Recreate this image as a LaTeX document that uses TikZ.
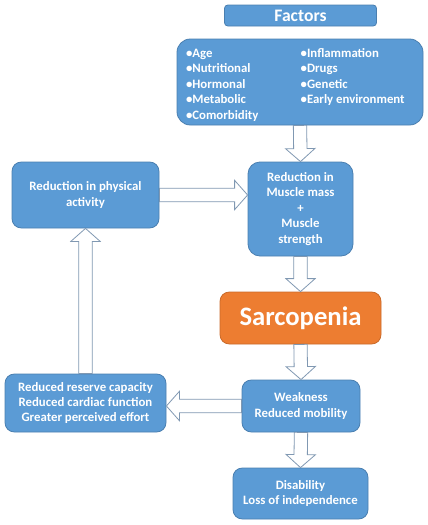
\documentclass[tikz,border=0pt]{standalone}
\usepackage{fontspec}
\setmainfont{Carlito}
\usetikzlibrary{calc}

\definecolor{boxblue}{HTML}{5B9BD5}
\definecolor{boxedge}{HTML}{4A7FB0}
\definecolor{boxorange}{HTML}{ED7D31}
\definecolor{arrowedge}{HTML}{8098B2}

\tikzset{
    box/.style={draw=boxedge, fill=boxblue, line width=0.6pt, rounded corners=7pt,
	inner sep=0pt, align=center, text=white,
	font=\bfseries\fontsize{9.6}{11.6}\selectfont},
    hollow/.style={draw=arrowedge, fill=white, line width=0.6pt,
	to path={let \p1=(\tikztostart), \p2=(\tikztotarget),
	    \n1={atan2(\y2-\y1,\x2-\x1)} in
	    ($(\p1)+(\n1+90:5pt)$) -- ($(\p2)+(\n1+180:9.75pt)+(\n1+90:5pt)$)
	    -- ($(\p2)+(\n1+180:9.75pt)+(\n1+90:11pt)$) -- (\p2)
	    -- ($(\p2)+(\n1+180:9.75pt)+(\n1-90:11pt)$)
	    -- ($(\p2)+(\n1+180:9.75pt)+(\n1-90:5pt)$)
	    -- ($(\p1)+(\n1-90:5pt)$) -- cycle}}
}

\begin{document}
\begin{tikzpicture}[x=0.75pt, y=-0.75pt]
    \path[use as bounding box] (0, 0) rectangle (428, 525);

    \node[box, rounded corners=2.5pt, minimum width=114pt, minimum height=15.75pt,
	font=\bfseries\fontsize{13.2}{14}\selectfont] (factors) at (300.5, 15.5) {Factors};
    \node[box, rounded corners=10pt, minimum width=184.5pt, minimum height=64.5pt]
	(causes) at (300, 82) {\raisebox{-2.5pt}[\height][\depth]{%
	\begin{tabular}{@{}p{86pt}@{}l@{\hspace{7pt}}}
	    •Age & •Inflammation\\
	    •Nutritional & •Drugs\\
	    •Hormonal & •Genetic\\
	    •Metabolic & •Early environment\\
	    •Comorbidity &
	\end{tabular}}};

    \node[box, minimum width=110.25pt, minimum height=49.5pt] (activity) at (85.5, 195)
	{Reduction in physical\\activity};
    \node[box, rounded corners=9pt, minimum width=78.75pt, minimum height=70.5pt] (muscle) at (300.5, 209)
	{Reduction in\\Muscle mass\\+\\Muscle\\strength};
    \node[box, draw=boxorange!85!black, fill=boxorange, minimum width=120.75pt, minimum height=39pt,
	font=\bfseries\fontsize{20}{22}\selectfont] (sarco) at (300.5, 318) {Sarcopenia};
    \node[box, minimum width=88.5pt, minimum height=39pt] (weak) at (301, 406)
	{Weakness\\Reduced mobility};
    \node[box, minimum width=120.75pt, minimum height=43.5pt] (reserve) at (85.5, 403)
	{Reduced reserve capacity\\Reduced cardiac function\\Greater perceived effort};
    \node[box, minimum width=101.25pt, minimum height=38.25pt] (disab) at (300.5, 493.5)
	{Disability\\Loss of independence};

    % block arrows
    \draw[hollow] (causes.south) to (muscle.north);
    \draw[hollow] (activity.east) to (activity.east -| muscle.west);
    \draw[hollow] (muscle.south) to (sarco.north);
    \draw[hollow] (sarco.south) to (weak.north);
    \draw[hollow] (weak.west) to (weak.west -| reserve.east);
    \draw[hollow] (reserve.north) to (activity.south);
    \draw[hollow] (weak.south) to (disab.north);
\end{tikzpicture}
\end{document}
